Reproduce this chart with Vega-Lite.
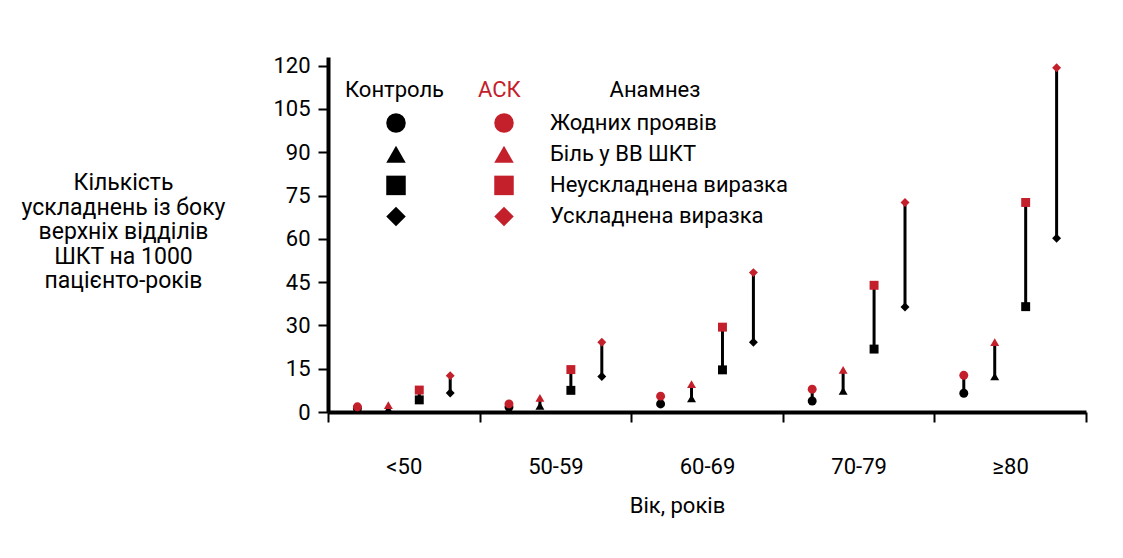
{
  "$schema": "https://vega.github.io/schema/vega-lite/v6.json",
  "width": 758,
  "height": 355,
  "autosize": "none",
  "padding": {"left": 328, "top": 57, "right": 37, "bottom": 146},
  "background": "white",
  "config": {
    "view": {"stroke": null},
    "font": "Roboto",
    "legend": {"padding": 0, "labelFontSize": 22, "titleFontSize": 22, "titleFontWeight": "normal", "labelColor": "black", "titleColor": "black", "symbolSize": 380, "rowPadding": 9, "titlePadding": 10, "orient": "none", "symbolStrokeWidth": 0, "labelLimit": 0}
  },
  "data": {
    "values": [
      {"age": "<50", "anamnez": "Жодних проявів", "control": 1.2, "ask": 1.8},
      {"age": "<50", "anamnez": "Біль у ВВ ШКТ", "control": 1.0, "ask": 2.4},
      {"age": "<50", "anamnez": "Неускладнена виразка", "control": 4.2, "ask": 7.6},
      {"age": "<50", "anamnez": "Ускладнена виразка", "control": 6.6, "ask": 12.6},
      {"age": "50-59", "anamnez": "Жодних проявів", "control": 1.7, "ask": 2.8},
      {"age": "50-59", "anamnez": "Біль у ВВ ШКТ", "control": 2.1, "ask": 4.9},
      {"age": "50-59", "anamnez": "Неускладнена виразка", "control": 7.5, "ask": 14.7},
      {"age": "50-59", "anamnez": "Ускладнена виразка", "control": 12.3, "ask": 24.2},
      {"age": "60-69", "anamnez": "Жодних проявів", "control": 2.8, "ask": 5.5},
      {"age": "60-69", "anamnez": "Біль у ВВ ШКТ", "control": 4.7, "ask": 9.7},
      {"age": "60-69", "anamnez": "Неускладнена виразка", "control": 14.6, "ask": 29.4},
      {"age": "60-69", "anamnez": "Ускладнена виразка", "control": 24.2, "ask": 48.3},
      {"age": "70-79", "anamnez": "Жодних проявів", "control": 3.8, "ask": 7.9},
      {"age": "70-79", "anamnez": "Біль у ВВ ШКТ", "control": 7.3, "ask": 14.6},
      {"age": "70-79", "anamnez": "Неускладнена виразка", "control": 21.8, "ask": 43.9},
      {"age": "70-79", "anamnez": "Ускладнена виразка", "control": 36.4, "ask": 72.6},
      {"age": "≥80", "anamnez": "Жодних проявів", "control": 6.5, "ask": 12.7},
      {"age": "≥80", "anamnez": "Біль у ВВ ШКТ", "control": 12.3, "ask": 24.2},
      {"age": "≥80", "anamnez": "Неускладнена виразка", "control": 36.5, "ask": 72.6},
      {"age": "≥80", "anamnez": "Ускладнена виразка", "control": 60.2, "ask": 119.3}
    ]
  },
  "encoding": {
    "x": {
      "field": "age", "type": "nominal",
      "sort": ["<50", "50-59", "60-69", "70-79", "≥80"],
      "scale": {"paddingInner": 0, "paddingOuter": 0},
      "axis": {
        "title": "Вік, років", "titleX": 349, "titleY": 83, "titleBaseline": "top", "titleAlign": "center",
        "titleFontSize": 22, "titleFontWeight": "normal", "titleColor": "black",
        "labelFontSize": 22, "labelAngle": 0, "labelPadding": 34, "labelColor": "black",
        "tickSize": 10, "tickWidth": 2, "tickColor": "black", "tickBand": "extent",
        "domainWidth": 4, "domainColor": "black", "grid": false
      }
    },
    "xOffset": {
      "field": "anamnez", "type": "nominal",
      "sort": ["Жодних проявів", "Біль у ВВ ШКТ", "Неускладнена виразка", "Ускладнена виразка"],
      "scale": {"paddingInner": 0, "paddingOuter": 0.45}
    },
    "y": {
      "field": "control", "type": "quantitative",
      "scale": {"domain": [0, 123], "nice": false, "zero": true},
      "axis": {
        "values": [0, 15, 30, 45, 60, 75, 90, 105, 120],
        "title": ["Кількість", "ускладнень із боку", "верхніх відділів", "ШКТ на 1000", "пацієнто-років"],
        "titleAngle": 0, "titleAlign": "center", "titleBaseline": "middle",
        "titleX": -205, "titleY": 125.5, "titleFontSize": 23, "titleFontWeight": "normal",
        "titleLineHeight": 24.5, "titleColor": "black",
        "labelFontSize": 22, "labelColor": "black", "labelPadding": 8,
        "tickSize": 10, "tickWidth": 2, "tickColor": "black",
        "domainColor": "black", "domainWidth": 4, "grid": false
      }
    }
  },
  "layer": [
    {
      "mark": {"type": "rule", "color": "black", "strokeWidth": 3},
      "encoding": {
        "y2": {"field": "ask"}
      }
    },
    {
      "mark": {"type": "point", "filled": true, "color": "black", "opacity": 1, "size": 80},
      "encoding": {
        "shape": {
          "field": "anamnez", "type": "nominal",
          "scale": {"domain": ["Жодних проявів", "Біль у ВВ ШКТ", "Неускладнена виразка", "Ускладнена виразка"], "range": ["circle", "triangle-up", "square", "diamond"]},
          "legend": {"title": "Контроль", "legendX": 17, "legendY": 23, "titleAnchor": "start", "symbolOffset": 40, "labelExpr": "''", "rowPadding": 9.2, "symbolFillColor": "black"}
        }
      }
    },
    {
      "mark": {"type": "point", "filled": true, "color": "#c4202b", "opacity": 1, "size": 80},
      "encoding": {
        "y": {"field": "ask", "type": "quantitative"},
        "shape": {
          "field": "anamnez", "type": "nominal",
          "scale": {"domain": ["Жодних проявів", "Біль у ВВ ШКТ", "Неускладнена виразка", "Ускладнена виразка"], "range": ["circle", "triangle-up", "square", "diamond"]},
          "legend": {"title": "АСК", "titleColor": "#c4202b", "legendX": 150, "legendY": 23, "titleAnchor": "start", "symbolOffset": 15, "labelExpr": "''", "rowPadding": 9.2, "symbolFillColor": "#c4202b"}
        }
      }
    },
    {
      "mark": {"type": "point", "filled": true, "color": "white", "opacity": 0, "size": 80},
      "encoding": {
        "y": {"field": "ask", "type": "quantitative"},
        "shape": {
          "field": "anamnez", "type": "nominal",
          "scale": {"domain": ["Жодних проявів", "Біль у ВВ ШКТ", "Неускладнена виразка", "Ускладнена виразка"], "range": ["circle", "triangle-up", "square", "diamond"]},
          "legend": {"title": "Анамнез", "legendX": 194, "legendY": 23, "titleAnchor": "middle", "symbolOpacity": 0, "labelOffset": 6,
            "encode": {"title": {"update": {"dx": {"value": 5}}}}}
        }
      }
    }
  ],
  "resolve": {"scale": {"shape": "independent"}, "legend": {"shape": "independent"}}
}
